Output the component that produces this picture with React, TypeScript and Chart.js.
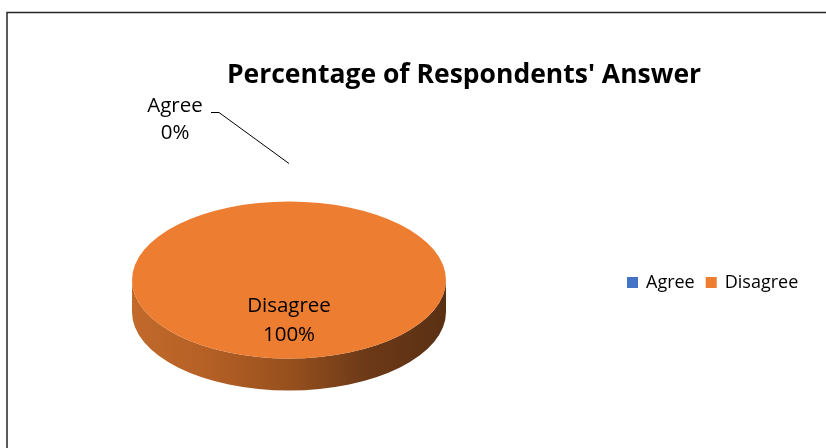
import React, { useEffect, useRef } from "react";
import { Chart, registerables } from "chart.js";

Chart.register(...registerables);

// Survey data
const answerLabels = ["Agree", "Disagree"];
const answerPercent = [0, 100];
const answerColors = ["#4472C4", "#ED7D31"];
const chartTitle = "Percentage of Respondents' Answer";

const FONT = "'Open Sans', 'Noto Sans', sans-serif";
const TILT = 0.5; // vertical squash of the pie top face
const DEPTH = 32; // thickness of the pie wall

// Part of an arc's angle range that lies in the front half (0..PI).
function frontRange(start: number, end: number): [number, number] | null {
  for (const shift of [0, -2 * Math.PI, 2 * Math.PI]) {
    const lo = Math.max(start + shift, 0);
    const hi = Math.min(end + shift, Math.PI);
    if (hi > lo) return [lo, hi];
  }
  return null;
}

// Draws the pie as a tilted disc: a shaded wall under the front half,
// the arcs squashed vertically, then title, labels, legend and frame.
const tiltedPie = {
  id: "tiltedPie",
  beforeDatasetsDraw(chart: any) {
    const ctx = chart.ctx as CanvasRenderingContext2D;
    const meta = chart.getDatasetMeta(0);
    meta.data.forEach((arc: any) => {
      const { x, y, outerRadius, startAngle, endAngle } = arc.getProps(
        ["x", "y", "outerRadius", "startAngle", "endAngle"],
        true
      );
      const range = frontRange(startAngle, endAngle);
      if (!range) return;
      const [lo, hi] = range;
      const rx = outerRadius;
      const ry = outerRadius * TILT;
      const grad = ctx.createLinearGradient(x - rx, 0, x + rx, 0);
      grad.addColorStop(0, "#C26A2C");
      grad.addColorStop(0.25, "#B45F25");
      grad.addColorStop(0.5, "#97501D");
      grad.addColorStop(0.75, "#6C3917");
      grad.addColorStop(1, "#5A3014");
      ctx.save();
      ctx.beginPath();
      ctx.ellipse(x, y + DEPTH, rx, ry, 0, hi, lo, true);
      ctx.ellipse(x, y, rx, ry, 0, lo, hi, false);
      ctx.closePath();
      ctx.fillStyle = grad;
      ctx.fill();
      ctx.restore();
    });
    const a = meta.data[0];
    ctx.save();
    ctx.translate(a.x, a.y);
    ctx.scale(1, TILT);
    ctx.translate(-a.x, -a.y);
  },
  afterDatasetsDraw(chart: any) {
    chart.ctx.restore();
  },
  afterDraw(chart: any) {
    const ctx = chart.ctx as CanvasRenderingContext2D;
    const meta = chart.getDatasetMeta(0);
    const data = chart.data.datasets[0].data as number[];
    const labels = chart.data.labels as string[];
    const colors = chart.data.datasets[0].backgroundColor as string[];

    ctx.save();
    // frame
    ctx.strokeStyle = "#262626";
    ctx.lineWidth = 1.5;
    ctx.strokeRect(7, 12.5, 1000, 600);

    // title
    ctx.fillStyle = "#000";
    ctx.font = `bold 26.5px ${FONT}`;
    ctx.textAlign = "center";
    ctx.textBaseline = "middle";
    ctx.fillText(chartTitle, 464, 75);

    // data labels
    ctx.font = `20.5px ${FONT}`;
    meta.data.forEach((arc: any, i: number) => {
      const { x, y, outerRadius, startAngle, endAngle } = arc.getProps(
        ["x", "y", "outerRadius", "startAngle", "endAngle"],
        true
      );
      const mid = (startAngle + endAngle) / 2;
      const pct = `${data[i]}%`;
      if (endAngle - startAngle > 0.3) {
        const px = x + Math.cos(mid) * outerRadius * 0.5;
        const py = y + Math.sin(mid) * outerRadius * 0.5 * TILT;
        ctx.fillText(labels[i], px, py - 13);
        ctx.fillText(pct, px, py + 16);
      } else {
        // outside label with leader line
        const ex = x + Math.cos(mid) * outerRadius;
        const ey = y + Math.sin(mid) * outerRadius * TILT - 38;
        const kx = ex - 70;
        const ky = ey - 51;
        ctx.strokeStyle = "#000";
        ctx.lineWidth = 1;
        ctx.beginPath();
        ctx.moveTo(ex, ey);
        ctx.lineTo(kx, ky);
        ctx.lineTo(kx - 8, ky);
        ctx.stroke();
        ctx.fillText(labels[i], kx - 44, ky - 6);
        ctx.fillText(pct, kx - 44, ky + 21);
      }
    });

    // legend
    ctx.font = `18px ${FONT}`;
    ctx.textAlign = "left";
    let lx = 627;
    const ly = 283;
    labels.forEach((lab, i) => {
      ctx.fillStyle = colors[i];
      ctx.fillRect(lx, ly - 6, 11, 11);
      ctx.fillStyle = "#000";
      ctx.fillText(lab, lx + 19, ly);
      lx += 19 + ctx.measureText(lab).width + 11;
    });
    ctx.restore();
  },
};

export default function App() {
  const canvasRef = useRef<HTMLCanvasElement | null>(null);

  useEffect(() => {
    if (!canvasRef.current) return;
    const chart = new Chart(canvasRef.current, {
      type: "pie",
      data: {
        labels: answerLabels,
        datasets: [
          {
            data: answerPercent,
            backgroundColor: answerColors,
            borderWidth: 0,
          },
        ],
      },
      options: {
        animation: false,
        responsive: false,
        devicePixelRatio: 1,
        events: [],
        rotation: 0,
        layout: { padding: { left: 132, right: 380, top: 123, bottom: 11 } },
        plugins: {
          legend: { display: false },
          tooltip: { enabled: false },
          title: { display: false },
        },
      },
      plugins: [tiltedPie],
    });
    return () => chart.destroy();
  }, []);

  return (
    <div style={{ position: "absolute", left: 0, top: 0, width: 826, height: 448, background: "#fff" }}>
      <canvas ref={canvasRef} width={826} height={448} />
    </div>
  );
}
